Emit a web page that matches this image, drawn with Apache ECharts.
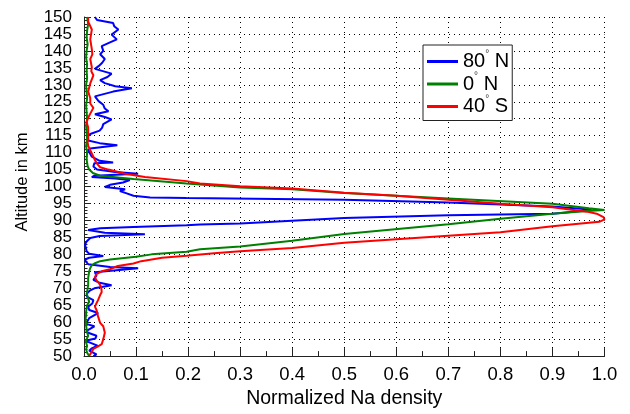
<!DOCTYPE html>
<html>
<head>
<meta charset="utf-8">
<script src="https://cdn.jsdelivr.net/npm/echarts@6/dist/echarts.min.js"></script>
<style>html,body{margin:0;padding:0;background:#fff;}#chart{width:630px;height:414px;}</style>
</head>
<body>
<div id="chart"></div>
<script>
// ---- data ----
const seriesNames = ['80°N', '0°N', '40°S'];

const alt80N = [50.0,50.5,51.6,52.3,53.1,54.5,55.2,56.0,56.9,57.4,58.8,59.5,61.2,62.7,63.6,64.6,65.5,66.5,67.5,68.4,69.4,70.0,70.9,71.6,72.5,73.7,74.7,75.2,75.9,76.3,76.6,77.1,77.8,78.5,79.0,79.5,80.2,80.9,81.4,82.9,83.8,84.3,84.8,85.4,85.9,86.4,87.2,87.7,88.1,88.6,88.8,89.1,90.7,91.5,92.0,92.7,93.1,93.4,94.1,95.3,96.1,96.6,96.8,97.3,98.0,98.7,99.2,99.9,100.5,101.2,101.9,102.4,102.8,103.2,103.8,104.3,105.0,105.9,106.9,107.1,107.6,108.8,109.3,110.7,111.2,112.2,112.8,113.6,115.0,115.5,116.5,117.4,118.4,119.8,120.5,121.3,122.2,123.0,124.1,125.2,126.6,128.0,129.0,129.6,130.5,131.4,132.3,133.3,134.7,135.5,136.5,137.6,139.0,140.0,141.4,142.5,143.4,144.8,146.3,147.3,148.2,149.1,150.0];
const val80N = [0.018,0.024,0.010,0.015,0.026,0.003,0.022,0.024,0.008,0.004,0.020,0.004,0.010,0.027,0.010,0.008,0.016,0.018,0.006,0.005,0.012,0.020,0.053,0.030,0.018,0.024,0.021,0.018,0.104,0.050,0.047,0.008,0.004,0.002,0.010,0.037,0.010,0.005,0.005,0.002,0.005,0.008,0.012,0.030,0.117,0.040,0.008,0.031,0.095,0.197,0.223,0.30,0.50,0.70,0.90,0.95,0.975,0.96,0.90,0.70,0.50,0.197,0.127,0.095,0.082,0.069,0.079,0.040,0.050,0.075,0.088,0.060,0.015,0.020,0.104,0.060,0.025,0.018,0.020,0.056,0.030,0.015,0.012,0.008,0.012,0.064,0.030,0.008,0.008,0.012,0.030,0.035,0.037,0.053,0.040,0.021,0.047,0.040,0.037,0.028,0.021,0.056,0.092,0.060,0.040,0.031,0.045,0.053,0.021,0.028,0.035,0.040,0.031,0.037,0.034,0.050,0.063,0.053,0.066,0.058,0.056,0.025,0.021];

const alt0N = [50,51,52,53,54,55,56,57,58,59,60,61,62,63,64,65,66,67,68,69,70,71,72,73,74,75,76,76.8,77.3,78.0,78.5,79.3,80.0,80.75,81.5,82.3,84.0,86.0,88.9,90.5,92.0,92.7,93.1,93.6,94.9,96.5,98.1,99.2,99.7,100.9,102.2,103.2,104.0,105,106,107,108,110,112,114,116,118,120,122,124,126,128,130,132,134,136,138,140,142,144,146,148,150];
const val0N = [0.010,0.006,0.004,0.006,0.004,0.005,0.008,0.006,0.005,0.004,0.004,0.003,0.004,0.004,0.005,0.006,0.010,0.008,0.006,0.006,0.007,0.008,0.008,0.008,0.009,0.010,0.012,0.015,0.020,0.031,0.050,0.100,0.130,0.197,0.223,0.30,0.40,0.50,0.70,0.80,0.90,0.96,1.0,0.97,0.90,0.70,0.50,0.40,0.30,0.197,0.095,0.031,0.017,0.010,0.007,0.006,0.005,0.006,0.004,0.006,0.005,0.004,0.006,0.005,0.004,0.006,0.005,0.004,0.006,0.005,0.006,0.004,0.005,0.007,0.005,0.006,0.008,0.006];

const alt40S = [50.0,50.2,52.1,52.9,53.5,55.0,56.9,58.8,59.8,61.7,63.6,64.6,65.6,66.5,68.0,68.9,70.4,71.5,72.3,73.3,74.2,75.0,75.6,76.6,77.3,78.0,79.0,79.6,80.3,80.9,81.9,83.4,85.5,86.5,88.3,89.6,90.3,91.0,92.0,92.6,93.9,94.9,96.1,97.3,98.2,99.4,100.1,100.9,101.6,102.8,103.8,105.0,105.7,106.4,107.5,108.8,110.7,112.0,113.1,115.0,117.4,119.0,120.3,121.5,123.2,124.5,126.1,128.0,130.4,132.8,134.0,135.2,137.6,139.0,140.5,143.4,146.3,148.6,150.0];
const val40S = [0.010,0.012,0.018,0.027,0.034,0.037,0.040,0.037,0.031,0.027,0.024,0.021,0.024,0.027,0.031,0.034,0.033,0.029,0.024,0.021,0.024,0.034,0.050,0.065,0.095,0.110,0.150,0.197,0.250,0.300,0.400,0.500,0.700,0.800,0.900,0.990,1.000,0.998,0.985,0.966,0.900,0.800,0.700,0.600,0.500,0.400,0.300,0.223,0.197,0.117,0.079,0.047,0.031,0.027,0.022,0.018,0.012,0.008,0.007,0.008,0.008,0.005,0.008,0.012,0.018,0.012,0.012,0.008,0.012,0.018,0.014,0.015,0.012,0.016,0.015,0.012,0.015,0.008,0.008];

const xTickValues = [0,0.1,0.2,0.3,0.4,0.5,0.6,0.7,0.8,0.9,1.0];
const yTickValues = [50,55,60,65,70,75,80,85,90,95,100,105,110,115,120,125,130,135,140,145,150];

const colors = ['#0000ff', '#008000', '#ff0000'];
const FONT = 'Liberation Sans, Arial, sans-serif';

function pairs(alts, vals) { return alts.map((a, i) => [vals[i], a]); }

const chart = echarts.init(document.getElementById('chart'), null, {renderer: 'canvas'});
const gridColor = '#000';
const dotted = {color: gridColor, type: [1, 4], width: 1};
chart.setOption({
  animation: false,
  backgroundColor: '#fff',
  textStyle: {fontFamily: FONT},
  grid: {left: 84, right: 25.5, top: 17, bottom: 50, containLabel: false},
  xAxis: {
    type: 'value', min: xTickValues[0], max: xTickValues[xTickValues.length - 1], interval: 0.1,
    name: 'Normalized Na density', nameLocation: 'middle', nameGap: 27,
    nameTextStyle: {fontSize: 19.5, color: '#000', fontFamily: FONT},
    axisLine: {show: true, onZero: false, lineStyle: {color: '#222', width: 1}},
    axisTick: {show: true, inside: true, length: 8, lineStyle: {color: '#222'}},
    minorTick: {show: true, splitNumber: 2, length: 5, lineStyle: {color: '#222'}},
    axisLabel: {fontSize: 18.5, color: '#000', margin: 9, fontFamily: FONT, formatter: v => v.toFixed(1)},
    splitLine: {show: true, lineStyle: dotted}
  },
  yAxis: {
    type: 'value', min: yTickValues[0], max: yTickValues[yTickValues.length - 1], interval: 5,
    name: 'Altitude in km', nameLocation: 'middle', nameGap: 53, nameRotate: 90,
    nameTextStyle: {fontSize: 16.5, color: '#000', fontFamily: FONT, padding: [0, 0, 0, 9]},
    axisLine: {show: true, onZero: false, lineStyle: {color: '#222', width: 1}},
    axisTick: {show: true, inside: true, length: 7, lineStyle: {color: '#222'}},
    minorTick: {show: true, splitNumber: 5, length: 3.5, lineStyle: {color: '#222'}},
    axisLabel: {fontSize: 17, color: '#000', margin: 12, fontFamily: FONT, lineHeight: 15},
    splitLine: {show: true, lineStyle: dotted}
  },
  legend: {
    show: true, orient: 'vertical', left: 423, top: 45,
    padding: [4, 3, 4, 4], itemGap: 0, itemWidth: 31, itemHeight: 3, icon: 'rect',
    backgroundColor: '#fff', borderColor: '#222', borderWidth: 1, borderRadius: 0,
    data: seriesNames,
    formatter: function (name) {
      const parts = name.split('°');
      return '{n|' + parts[0] + '}{d|°}{n| ' + parts[1] + '}';
    },
    textStyle: {
      color: '#000', fontFamily: FONT, padding: [0, 0, 0, 0],
      rich: {
        n: {fontSize: 20, lineHeight: 25, color: '#000', fontFamily: FONT},
        d: {fontSize: 10, lineHeight: 25, color: '#444', fontFamily: FONT, verticalAlign: 'top', padding: [0, 0, 0, 0]}
      }
    }
  },
  series: [
    {name: seriesNames[0], type: 'line', data: pairs(alt80N, val80N), symbol: 'none', lineStyle: {color: colors[0], width: 2}, itemStyle: {color: colors[0]}, z: 3},
    {name: seriesNames[1], type: 'line', data: pairs(alt0N, val0N), symbol: 'none', lineStyle: {color: colors[1], width: 2}, itemStyle: {color: colors[1]}, z: 4},
    {name: seriesNames[2], type: 'line', data: pairs(alt40S, val40S), symbol: 'none', lineStyle: {color: colors[2], width: 2}, itemStyle: {color: colors[2]}, z: 5}
  ]
});
</script>
</body>
</html>
